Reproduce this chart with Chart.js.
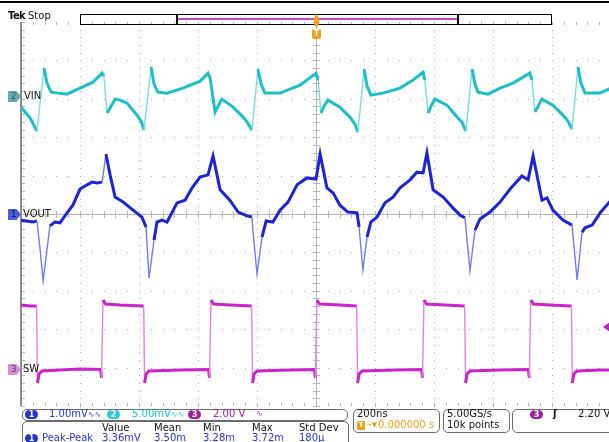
<!DOCTYPE html>
<html>
<head>
<meta charset="utf-8">
<title>Tek scope capture</title>
<script src="https://cdn.jsdelivr.net/npm/chart.js@4.4.1/dist/chart.umd.min.js"></script>
<style>
  html, body { margin: 0; padding: 0; background: #fff; overflow: hidden; }
  #scope { position: relative; width: 609px; height: 442px; overflow: hidden; font-family: "DejaVu Sans", sans-serif; font-size: 10px; color: #111; }
  #scope canvas { position: absolute; left: 0; top: 0; }
  .t { position: absolute; white-space: nowrap; line-height: 12px; font-size: 10px; }
  .box { position: absolute; box-sizing: border-box; border: 1px solid #6c6c6c; border-radius: 5px; }
  .oval { position: absolute; width: 13px; height: 9px; border-radius: 5px; color: #fff; font-size: 8px; font-weight: bold; line-height: 9px; text-align: center; }
  .tag { position: absolute; left: 8px; width: 13px; height: 11px; font-size: 9px; line-height: 11px; text-indent: -2px; text-align: center; clip-path: polygon(0 0, 65% 0, 100% 50%, 65% 100%, 0 100%); }
</style>
</head>
<body>
<div id="scope">
  <canvas id="myChart" width="620" height="442"></canvas>

  <div style="position:absolute;left:0;top:1px;width:609px;height:2px;background:#000"></div>
  <span class="t" style="left:8px;top:10px;font-weight:bold;letter-spacing:-0.6px">Tek</span>
  <span class="t" style="left:28px;top:10px">Stop</span>

  <!-- record view bar -->
  <div style="position:absolute;left:80px;top:14px;width:472px;height:11px;border:1px solid #000;box-sizing:border-box"></div>
  <div style="position:absolute;left:177px;top:18px;width:281px;height:2px;background:#c845c8"></div>
  <div style="position:absolute;left:176px;top:14px;width:2px;height:11px;background:#000"></div>
  <div style="position:absolute;left:457px;top:14px;width:2px;height:11px;background:#000"></div>
  <div style="position:absolute;left:314px;top:14px;width:5px;height:14px;background:#f0a020;clip-path:polygon(50% 0,100% 30%,100% 70%,50% 100%,0 70%,0 30%)"></div>
  <div style="position:absolute;left:312px;top:29px;width:9px;height:10px;border-radius:2px;background:#f0a020;color:#fff;font-size:8px;font-weight:bold;line-height:10px;text-align:center">T</div>

  <!-- channel markers -->
  <div class="tag" style="top:91px;background:#6aa9aa;color:#2b6d6d">2</div>
  <span class="t" style="left:24px;top:90px">VIN</span>
  <div class="tag" style="top:209px;background:#4b5fd8;color:#10125c">1</div>
  <span class="t" style="left:23px;top:208px">VOUT</span>
  <div class="tag" style="top:364px;background:#d591d5;color:#7a207a">3</div>
  <span class="t" style="left:23px;top:363px">SW</span>
  <div style="position:absolute;left:603px;top:322px;width:7px;height:10px;background:#c020c0;clip-path:polygon(100% 0,0 50%,100% 100%)"></div>

  <!-- vertical settings -->
  <div class="box" style="left:22px;top:409px;width:326px;height:12px"></div>
  <div class="oval" style="left:25px;top:410px;background:#2232cc">1</div>
  <span class="t" style="left:49px;top:408px;color:#2636d6">1.00mV<span style="font-size:8px">∿∿</span></span>
  <div class="oval" style="left:107px;top:410px;background:#2ccbd6">2</div>
  <span class="t" style="left:132px;top:408px;color:#18c4cc">5.00mV<span style="font-size:8px">∿∿</span></span>
  <div class="oval" style="left:188px;top:410px;background:#a0209f">3</div>
  <span class="t" style="left:213px;top:408px;color:#a0209f">2.00 V</span>
  <span class="t" style="left:256px;top:408px;color:#a0209f;font-size:8px">∿</span>

  <!-- measurement -->
  <div class="box" style="left:22px;top:421px;width:327px;height:30px"></div>
  <span class="t" style="left:102px;top:422px">Value</span>
  <span class="t" style="left:154px;top:422px">Mean</span>
  <span class="t" style="left:203px;top:422px">Min</span>
  <span class="t" style="left:252px;top:422px">Max</span>
  <span class="t" style="left:299px;top:422px">Std Dev</span>
  <div class="oval" style="left:25px;top:434px;background:#2232cc">1</div>
  <span class="t" style="left:42px;top:432px;color:#2636d6">Peak-Peak</span>
  <span class="t" style="left:102px;top:432px;color:#2636d6">3.36mV</span>
  <span class="t" style="left:154px;top:432px;color:#2636d6">3.50m</span>
  <span class="t" style="left:203px;top:432px;color:#2636d6">3.28m</span>
  <span class="t" style="left:252px;top:432px;color:#2636d6">3.72m</span>
  <span class="t" style="left:299px;top:432px;color:#2636d6">180µ</span>

  <!-- horizontal / acquisition / trigger -->
  <div class="box" style="left:353px;top:409px;width:87px;height:24px"></div>
  <span class="t" style="left:357px;top:408px">200ns</span>
  <div style="position:absolute;left:357px;top:421px;width:8px;height:9px;border-radius:1px;background:#f0a020;color:#fff;font-size:7px;font-weight:bold;line-height:9px;text-align:center">T</div>
  <span class="t" style="left:366px;top:419px;color:#f0a020;font-size:7px">→▼</span>
  <span class="t" style="left:378px;top:419px;color:#f0a020">0.000000 s</span>
  <div class="box" style="left:443px;top:409px;width:67px;height:24px"></div>
  <span class="t" style="left:447px;top:408px">5.00GS/s</span>
  <span class="t" style="left:447px;top:419px">10k points</span>
  <div class="box" style="left:512px;top:409px;width:110px;height:24px"></div>
  <div class="oval" style="left:530px;top:410px;background:#a0209f">3</div>
  <span class="t" style="left:553px;top:408px;font-weight:bold">ʃ</span>
  <span class="t" style="left:578px;top:408px">2.20 V</span>
</div>

<script>
// time in ns, trigger at 0, 200 ns/div
const vinTime = [-1000,-969,-946,-922,-912,-898,-875,-844,-800,-756,-725,-719,-708,-698,-681,-664,-641,-607,-593,-583,
  -559,-549,-536,-505,-451,-393,-366,-359,-342,-332,-319,-281,-247,-231,-217,
  -197,-186,-173,-122,-54,0,7,17,27,41,81,115,132,142,
  163,173,186,227,285,329,363,369,380,390,403,444,478,495,508,
  529,539,549,583,624,668,725,732,742,753,766,803,837,854,868,
  888,898,912,963,1000]
// VIN in mV (ch2, 5 mV/div)
const vinMv = [-1.43,-2.86,-4.56,3.65,1.69,0.52,0.39,0.26,1.04,1.82,2.99,2.60,-2.21,-1.56,-0.39,-0.52,-0.91,-2.47,-3.26,-4.43,
  3.78,1.56,0.52,0.39,1.04,1.95,2.99,2.34,-2.08,-1.30,-0.39,-1.43,-2.73,-3.52,-4.43,
  3.52,1.56,0.39,0.39,1.43,2.99,2.08,-2.21,-1.30,-0.52,-1.43,-2.73,-3.65,-4.69,
  3.52,1.30,0.13,0.39,1.04,2.08,3.13,2.08,-2.21,-1.30,-0.39,-1.17,-2.73,-3.39,-4.56,
  3.52,1.56,0.52,0.26,1.04,1.69,2.99,2.08,-2.08,-1.30,-0.39,-1.17,-2.47,-3.26,-4.30,
  3.78,1.69,0.39,0.39,1.04]

const voutTime = [-1000,-959,-946,-936,-925,-912,-902,-885,-868,-844,
  -824,-800,-776,-759,-742,-725,-712,-698,-681,-654,
  -620,-590,-576,-566,-549,-539,-522,-505,-471,-444,
  -420,-393,-366,-349,-325,-292,-264,-234,-217,-214,
  -200,-183,-169,-146,-122,-95,-64,-31,0,14,
  37,58,81,108,139,146,159,173,186,207,
  234,261,285,319,342,363,376,397,431,464,
  488,505,522,539,556,590,624,658,698,719,
  736,766,783,803,837,868,885,902,912,936,
  963,1000]
// VOUT in mV (ch1, 1 mV/div)
const voutMv = [-0.16,-0.21,-0.18,-0.86,-1.74,-0.94,-0.31,-0.21,-0.23,0.03,
  0.23,0.65,0.76,0.83,0.81,0.83,1.56,1.02,0.44,0.31,
  0.10,-0.08,-0.34,-1.67,-0.68,-0.21,-0.16,-0.21,0.29,0.36,
  0.68,0.96,1.02,1.51,0.63,0.36,0.05,-0.05,-0.08,-0.42,
  -1.56,-0.60,-0.18,-0.21,0.10,0.31,0.76,0.94,0.91,1.56,
  0.68,0.55,0.23,0.05,0.03,-0.34,-1.46,-0.60,-0.21,-0.08,
  0.29,0.44,0.68,0.89,1.09,1.07,1.59,0.63,0.44,0.16,
  -0.03,-0.10,-1.48,-0.42,-0.13,0.05,0.31,0.65,0.99,0.89,
  1.51,0.36,0.42,0.10,-0.16,-0.29,-1.72,-0.47,-0.36,-0.29,
  0.03,0.36]

const swTime = [-1000,-970,-947,-944,-939,-929,-870,-800,-730,-727,-722,-713,-665,-584,-581,-576,-566,-460,
  -364,-361,-356,-347,-290,-218,-215,-210,-200,-90,
  -5,-2,3,12,80,138,141,146,156,270,
  358,361,366,375,440,504,507,512,522,620,
  720,723,728,737,795,866,869,874,884,960,1000]
// SW in volts (ch3, 2 V/div)
const swVolts = [3.36,3.31,3.31,-0.70,-0.23,-0.08,-0.03,0.03,0.00,-0.44,3.62,3.41,3.36,3.31,-0.70,-0.23,-0.08,-0.03,
  0.00,-0.44,3.62,3.41,3.36,3.31,-0.70,-0.23,-0.08,-0.03,
  0.00,-0.44,3.62,3.41,3.36,3.31,-0.70,-0.23,-0.08,-0.03,
  0.00,-0.44,3.62,3.41,3.36,3.31,-0.70,-0.23,-0.08,-0.03,
  0.00,-0.44,3.62,3.41,3.36,3.31,-0.70,-0.23,-0.08,-0.03,-0.03]

const toPoints = (xs, ys) => xs.map((x, i) => ({x: x, y: ys[i]}))

// very fast edges look fainter on the scope
const steep = c => {
  const dy = Math.abs(c.p1.y - c.p0.y)
  return dy > 12 && dy > 7 * Math.abs(c.p1.x - c.p0.x)
}
const trace = (label, xs, ys, axis, color, faint) => ({
  label: label,
  data: toPoints(xs, ys),
  yAxisID: axis,
  borderColor: color,
  borderWidth: 3,
  pointRadius: 0,
  tension: 0,
  segment: {
    borderColor: c => steep(c) ? faint : undefined,
    borderWidth: c => steep(c) ? 1.4 : undefined
  }
})

const graticule = {
  id: 'graticule',
  beforeDatasetsDraw(chart) {
    const ctx = chart.ctx, a = chart.chartArea
    const sx = chart.scales.x, sy = chart.scales.yVout
    const X = v => Math.round(sx.getPixelForValue(v))
    const Y = v => Math.round(sy.getPixelForValue(v))
    ctx.save()
    ctx.fillStyle = '#a6a6a6'
    for (let i = -4; i <= 4; i++) {
      if (i === 0) continue
      const px = X(i * 200)
      for (let j = -25; j <= 25; j++) ctx.fillRect(px, Y(j / 5), 1, 1)
      const py = Y(i)
      for (let j = -25; j <= 25; j++) ctx.fillRect(X(j * 40), py, 1, 1)
    }
    const cx = X(0), cy = Y(0)
    ctx.fillStyle = '#b6b6b6'
    ctx.fillRect(a.left, cy, a.right - a.left, 1)
    ctx.fillRect(cx, a.top, 1, a.bottom - a.top)
    for (let j = -25; j <= 25; j++) {
      ctx.fillRect(X(j * 40), cy - 3, 1, 7)
      ctx.fillRect(cx - 3, Y(j / 5), 7, 1)
      ctx.fillRect(X(j * 40), a.top, 1, 3)
      ctx.fillRect(X(j * 40), a.bottom - 3, 1, 3)
      ctx.fillRect(a.left, Y(j / 5), 4, 1)
    }
    ctx.fillStyle = '#8e8e8e'
    ctx.fillRect(a.left - 1, a.top, 2, a.bottom - a.top)
    ctx.restore()
  }
}

let chart = new Chart('myChart', {
  type: 'line',
  data: {
    datasets: [
      trace('SW', swTime, swVolts, 'ySw', 'rgb(204,34,204)', 'rgb(226,130,226)'),
      trace('VOUT', voutTime, voutMv, 'yVout', 'rgb(28,36,212)', 'rgb(115,125,234)'),
      trace('VIN', vinTime, vinMv, 'yVin', 'rgb(28,190,200)', 'rgb(125,220,226)')
    ]
  },
  options: {
    responsive: false,
    animation: false,
    events: [],
    layout: { padding: { left: 21, top: 22, right: 9, bottom: 36 } },
    plugins: { legend: { display: false }, tooltip: { enabled: false } },
    scales: {
      x: { type: 'linear', min: -1000, max: 1000, display: false },
      yVout: { min: -5, max: 5, display: false },
      yVin: { min: -40.35, max: 9.65, display: false },
      ySw: { min: -1.9, max: 18.1, display: false }
    }
  },
  plugins: [graticule]
})
</script>
</body>
</html>
